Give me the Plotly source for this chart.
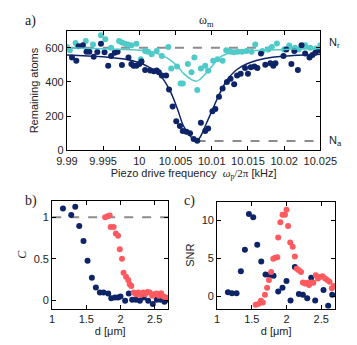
import plotly.graph_objects as go

# ---- panel a: remaining atoms vs piezo drive frequency ----
freq_dark = [9.9907, 9.9913, 9.9916, 9.9922, 9.9927, 9.9931, 9.9937, 9.9942, 9.9947, 9.9952,
             9.9957, 9.9961, 9.9966, 9.9970, 9.9976, 9.9985, 9.9989, 9.9992, 9.9996, 10.0000,
             10.0003, 10.0008, 10.0015, 10.0020, 10.0024, 10.0027, 10.0031, 10.0037, 10.0041, 10.0046,
             10.0051, 10.0056, 10.0060, 10.0065, 10.0070, 10.0075, 10.0080, 10.0085, 10.0091, 10.0095,
             10.0101, 10.0105, 10.0110, 10.0115, 10.0121, 10.0126, 10.0131, 10.0135, 10.0140, 10.0146,
             10.0150, 10.0154, 10.0159, 10.0163, 10.0168, 10.0174, 10.0181, 10.0185, 10.0188, 10.0199,
             10.0203, 10.0210, 10.0214, 10.0219, 10.0224, 10.0229, 10.0235, 10.0239, 10.0243, 10.0248]
atoms_dark = [543, 524, 608, 615, 577, 577, 547, 575, 623, 573,
              495, 552, 570, 577, 499, 543, 505, 495, 495, 505,
              520, 470, 467, 463, 467, 457, 438, 438, 356, 257,
              171, 143, 114, 109, 101, 67, 57, 162, 114, 128,
              229, 242, 314, 362, 400, 419, 387, 438, 448, 482,
              448, 486, 490, 482, 566, 501, 509, 495, 509, 552,
              590, 505, 581, 470, 615, 566, 543, 558, 571, 585]

freq_cyan = [9.9900, 9.9904, 9.9912, 9.9926, 9.9936, 9.9947, 9.9953, 9.9961, 9.9972, 9.9976,
             9.9980, 9.9984, 9.9989, 9.9996, 10.0002, 10.0008, 10.0012, 10.0017, 10.0024, 10.0031,
             10.0040, 10.0044, 10.0052, 10.0057, 10.0060, 10.0067, 10.0072, 10.0076, 10.0080, 10.0085,
             10.0091, 10.0095, 10.0102, 10.0108, 10.0115, 10.0120, 10.0126, 10.0131, 10.0136, 10.0142,
             10.0148, 10.0155, 10.0160, 10.0170, 10.0178, 10.0183, 10.0190, 10.0200, 10.0207, 10.0215,
             10.0220, 10.0229, 10.0236, 10.0244, 10.0250]
atoms_cyan = [604, 585, 627, 640, 619, 673, 650, 600, 640, 631,
              623, 619, 615, 623, 533, 581, 577, 562, 581, 552,
              604, 478, 491, 391, 391, 505, 457, 543, 353, 478,
              495, 465, 524, 533, 524, 585, 577, 573, 577, 577,
              581, 577, 619, 581, 590, 604, 625, 590, 613, 600,
              590, 615, 600, 596, 615]

# fit curves
fit_freq = [9.9900, 9.9949, 9.9991, 10.0012, 10.0029, 10.0042, 10.0053, 10.0061, 10.0072, 10.0079,
            10.0085, 10.0093, 10.0102, 10.0110, 10.0121, 10.0133, 10.0148, 10.0169, 10.0191, 10.0212,
            10.0250]
fit_dark = [558, 547, 524, 490, 438, 352, 238, 143, 76, 52,
            86, 162, 248, 324, 410, 467, 505, 533, 547, 554,
            562]
fit_cyan = [600, 594, 588, 581, 560, 530, 490, 450, 414, 405,
            420, 455, 500, 540, 565, 577, 582, 585, 588, 592,
            596]

N_r = 600
N_a = 55
freq_ticks = [9.99, 9.995, 10, 10.005, 10.01, 10.015, 10.02, 10.025]

# ---- panels b and c: contrast and SNR vs distance ----
d_dark_b = [1.158, 1.279, 1.338, 1.396, 1.459, 1.518, 1.581, 1.640, 1.698, 1.752,
            1.820, 1.865, 1.919, 1.964, 2.000, 2.068, 2.122, 2.171, 2.225, 2.284,
            2.338, 2.405, 2.473, 2.532, 2.586, 2.644, 2.698]
C_dark = [1.106, 1.028, 1.126, 0.894, 0.713, 0.476, 0.272, 0.154, 0.094, 0.094,
          0.083, 0.024, 0.035, 0.035, 0.047, -0.004, 0.083, 0.008, 0.008, -0.004,
          0.035, -0.004, -0.043, 0.008, 0.008, -0.016, 0.008]
d_red_b = [1.775, 1.811, 1.842, 1.856, 1.900, 1.932, 1.964, 1.990, 2.022, 2.045,
           2.081, 2.113, 2.135, 2.158, 2.194, 2.225, 2.261, 2.293, 2.329, 2.360,
           2.396, 2.428, 2.464, 2.496, 2.532, 2.563, 2.595, 2.631, 2.667, 2.698]
C_red = [1.000, 1.012, 1.020, 0.882, 0.882, 0.803, 0.776, 0.614, 0.500, 0.331,
         0.283, 0.244, 0.193, 0.173, 0.094, 0.075, 0.094, 0.063, 0.094, 0.075,
         0.102, 0.094, 0.055, 0.075, 0.083, 0.055, 0.087, 0.047, 0.035, 0.028]

d_dark_c = [1.156, 1.213, 1.280, 1.342, 1.400, 1.458, 1.520, 1.578, 1.636, 1.698,
            1.756, 1.813, 1.880, 1.942, 2.000, 2.058, 2.120, 2.178, 2.236, 2.298,
            2.356, 2.413, 2.533, 2.600, 2.658]
snr_dark = [0.56, 0.43, 0.43, 3.32, 6.16, 10.86, 10.43, 6.81, 4.61, 2.89,
            2.80, 2.72, 0.65, 1.16, 2.03, -0.52, 3.88, 0.34, 0.22, -0.22,
            2.46, -0.52, 0.86, -1.21, 0.22]
d_red_c = [1.556, 1.600, 1.631, 1.658, 1.689, 1.720, 1.747, 1.778, 1.809, 1.836,
           1.867, 1.880, 1.911, 1.942, 1.978, 2.000, 2.022, 2.053, 2.089, 2.120,
           2.147, 2.178, 2.209, 2.236, 2.267, 2.298, 2.324, 2.356, 2.387, 2.422,
           2.453, 2.489, 2.520, 2.556, 2.587, 2.620, 2.653, 2.680]
snr_red = [-1.08, -0.95, -0.56, -0.78, 0.22, 1.16, 2.16, 3.23, 4.96, 5.09,
           5.17, 7.76, 9.78, 10.78, 10.78, 11.42, 9.27, 7.11, 6.55, 5.26,
           3.66, 3.45, 3.23, 1.85, 1.72, 1.81, 1.51, 1.85, 1.81, 2.80,
           2.37, 2.59, 2.67, 2.37, 2.16, 1.94, 1.08, 1.38]

NAVY = "#0e2468"
CYAN = "#4ecbc8"
RED = "#ff5a5f"
GRAY = "#8c8c8c"
SANS = "Liberation Sans"
SERIF = "Liberation Serif"

fig = go.Figure()

# panel a
fig.add_trace(go.Scatter(x=[freq_ticks[0], freq_ticks[-1]], y=[N_r, N_r], mode="lines",
                         line=dict(color=GRAY, width=2, dash="dash"), xaxis="x", yaxis="y"))
fig.add_trace(go.Scatter(x=[fit_freq[9], freq_ticks[-1]], y=[N_a, N_a], mode="lines",
                         line=dict(color=GRAY, width=2, dash="dash"), xaxis="x", yaxis="y"))
fig.add_trace(go.Scatter(x=freq_cyan, y=atoms_cyan, mode="markers",
                         marker=dict(color=CYAN, size=6), xaxis="x", yaxis="y"))
fig.add_trace(go.Scatter(x=freq_dark, y=atoms_dark, mode="markers",
                         marker=dict(color=NAVY, size=6), xaxis="x", yaxis="y"))
fig.add_trace(go.Scatter(x=fit_freq, y=fit_cyan, mode="lines", line_shape="spline",
                         line=dict(color=CYAN, width=1.5), xaxis="x", yaxis="y"))
fig.add_trace(go.Scatter(x=fit_freq, y=fit_dark, mode="lines", line_shape="spline",
                         line=dict(color=NAVY, width=1.5), xaxis="x", yaxis="y"))

# panel b
fig.add_trace(go.Scatter(x=[1, 2.7], y=[1, 1], mode="lines",
                         line=dict(color=GRAY, width=2, dash="dash"), xaxis="x2", yaxis="y2"))
fig.add_trace(go.Scatter(x=d_dark_b, y=C_dark, mode="markers",
                         marker=dict(color=NAVY, size=6), xaxis="x2", yaxis="y2"))
fig.add_trace(go.Scatter(x=d_red_b, y=C_red, mode="markers",
                         marker=dict(color=RED, size=6), xaxis="x2", yaxis="y2"))

# panel c
fig.add_trace(go.Scatter(x=d_dark_c, y=snr_dark, mode="markers",
                         marker=dict(color=NAVY, size=6), xaxis="x3", yaxis="y3"))
fig.add_trace(go.Scatter(x=d_red_c, y=snr_red, mode="markers",
                         marker=dict(color=RED, size=6), xaxis="x3", yaxis="y3"))

ax = dict(showline=True, linecolor="black", linewidth=1, mirror="ticks", ticks="inside",
          ticklen=4, tickcolor="black", showgrid=False, zeroline=False,
          tickfont=dict(family=SANS, size=11, color="#222"),
          title_font=dict(family=SANS, size=11, color="#222"))

fig.update_layout(
    width=357, height=345, margin=dict(l=0, r=0, t=0, b=0),
    paper_bgcolor="white", plot_bgcolor="white", showlegend=False,
    xaxis=dict(ax, domain=[52/357, 327/357], range=[9.99, 10.025], tickvals=freq_ticks,
               ticktext=[str(t) for t in freq_ticks], anchor="y",
               title=dict(text="Piezo drive frequency  <span style='font-family:Liberation Serif'><i>ω</i><sub>p</sub>/2π</span> [kHz]",
                          standoff=2)),
    yaxis=dict(ax, domain=[1-145/345, 1-23/345], range=[0, 700], tickvals=[0, 200, 400, 600],
               anchor="x", title=dict(text="Remaining atoms", standoff=4)),
    xaxis2=dict(ax, domain=[36/357, 162/357], range=[1, 2.7], tickvals=[1, 1.5, 2, 2.5],
                anchor="y2", title=dict(text="d [μm]", standoff=2)),
    yaxis2=dict(ax, domain=[1-306/345, 1-196/345], range=[-0.1, 1.2], tickvals=[0, 0.5, 1],
                anchor="x2", title=dict(text="<i>C</i>", standoff=4,
                                        font=dict(family=SERIF, size=12))),
    xaxis3=dict(ax, domain=[215/357, 343/357], range=[1, 2.7], tickvals=[1, 1.5, 2, 2.5],
                anchor="y3", title=dict(text="d [μm]", standoff=2)),
    yaxis3=dict(ax, domain=[1-306/345, 1-197/345], range=[-1.6, 12.5], tickvals=[0, 5, 10],
                anchor="x3", title=dict(text="SNR", standoff=4)),
)

labels = [
    dict(x=4, y=13, text="a)", font=dict(family=SERIF, size=14)),
    dict(x=4, y=196, text="b)", font=dict(family=SERIF, size=14)),
    dict(x=177, y=196, text="c)", font=dict(family=SERIF, size=14)),
    dict(x=193, y=13, text="ω<sub>m</sub>", font=dict(family=SERIF, size=12)),
    dict(x=334, y=36, text="N<sub>r</sub>", font=dict(family=SANS, size=11)),
    dict(x=334, y=135, text="N<sub>a</sub>", font=dict(family=SANS, size=11)),
]
for lb in labels:
    fig.add_annotation(x=lb["x"]/357, y=1-lb["y"]/345, xref="paper", yref="paper",
                       text=lb["text"], showarrow=False, xanchor="left", yanchor="middle",
                       font=dict(lb["font"], color="#222"))

fig.write_html("out.html")
